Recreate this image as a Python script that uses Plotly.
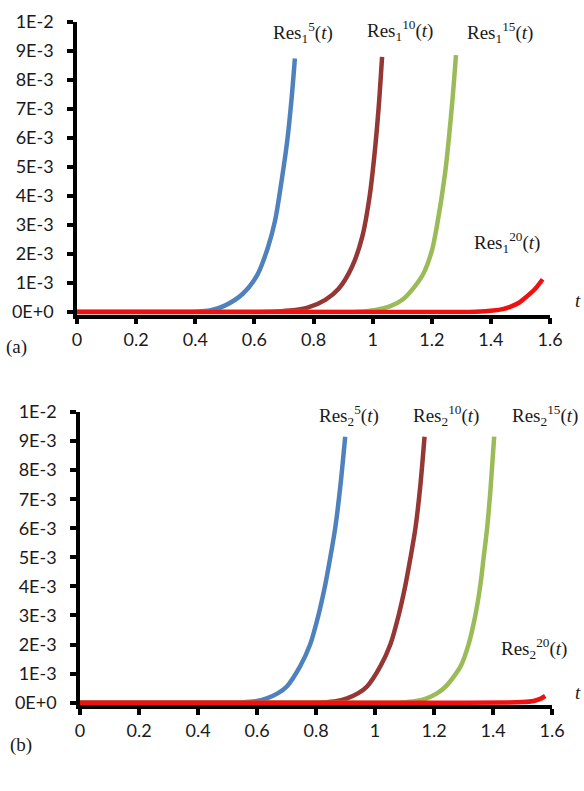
import plotly.graph_objects as go

W, H = 584, 791

# ---------------- data (values in units of 1E-3) ----------------
# Panel (a): Res_1^n(t)
t_a5 = [0, 0.2, 0.4, 0.45, 0.5, 0.56, 0.61, 0.645, 0.67, 0.692, 0.711, 0.726, 0.737]
v_a5 = [0, 0, 0.01, 0.05, 0.22, 0.62, 1.28, 2.2, 3.15, 4.52, 5.89, 7.37, 8.74]

t_a10 = [0, 0.4, 0.65, 0.72, 0.78, 0.84, 0.885, 0.93, 0.965, 0.99, 1.005, 1.02, 1.032]
v_a10 = [0, 0, 0.01, 0.05, 0.15, 0.42, 0.8, 1.55, 2.6, 4.0, 5.3, 7.0, 8.8]

t_a15 = [0, 0.8, 0.95, 1.01, 1.06, 1.104, 1.14, 1.172, 1.2, 1.217, 1.245, 1.268, 1.282]
v_a15 = [0, 0, 0.01, 0.07, 0.2, 0.45, 0.85, 1.33, 2.1, 2.94, 4.78, 7.08, 8.86]

t_a20 = [0, 1.2, 1.35, 1.408, 1.44, 1.465, 1.495, 1.521, 1.55, 1.575]
v_a20 = [0, 0, 0.01, 0.05, 0.1, 0.18, 0.32, 0.53, 0.8, 1.13]

# Panel (b): Res_2^n(t)
t_b5 = [0, 0.4, 0.55, 0.6, 0.633, 0.67, 0.701, 0.746, 0.78, 0.808, 0.831, 0.848, 0.865, 0.882, 0.899]
v_b5 = [0, 0, 0.01, 0.06, 0.15, 0.32, 0.56, 1.25, 2.0, 3.0, 4.04, 4.97, 6.0, 7.4, 9.15]

t_b10 = [0, 0.6, 0.82, 0.872, 0.905, 0.942, 0.973, 1.018, 1.052, 1.08, 1.103, 1.12, 1.137, 1.153, 1.168]
v_b10 = [0, 0, 0.01, 0.06, 0.15, 0.32, 0.56, 1.25, 2.0, 3.0, 4.04, 4.97, 6.0, 7.4, 9.15]

t_b15 = [0, 0.9, 1.09, 1.14, 1.175, 1.21, 1.24, 1.29, 1.317, 1.34, 1.357, 1.368, 1.38, 1.392, 1.404]
v_b15 = [0, 0, 0.01, 0.06, 0.15, 0.32, 0.56, 1.25, 2.0, 3.0, 4.04, 4.97, 6.0, 7.4, 9.15]

t_b20 = [0, 1.3, 1.45, 1.5, 1.538, 1.56, 1.577]
v_b20 = [0, 0, 0.005, 0.02, 0.06, 0.13, 0.23]

x_ticks = [0, 0.2, 0.4, 0.6, 0.8, 1.0, 1.2, 1.4, 1.6]
x_ticktext = ["0", "0.2", "0.4", "0.6", "0.8", "1", "1.2", "1.4", "1.6"]
y_ticks = [i * 1e-3 for i in range(11)]
y_ticktext = ["0E+0", "1E-3", "2E-3", "3E-3", "4E-3", "5E-3",
              "6E-3", "7E-3", "8E-3", "9E-3", "1E-2"]

colors = {"5": "#4F81BD", "10": "#953735", "15": "#9BBB59", "20": "#F01010"}

# ---------------- figure ----------------
fig = go.Figure()

def add(t, v, key, xa, ya):
    fig.add_trace(go.Scatter(
        x=t, y=[val * 1e-3 for val in v], mode="lines",
        line=dict(color=colors[key], width=4.5, shape="spline", smoothing=0.8),
        xaxis=xa, yaxis=ya, showlegend=False, hoverinfo="skip"))

for t, v, k in [(t_a5, v_a5, "5"), (t_a10, v_a10, "10"), (t_a15, v_a15, "15"), (t_a20, v_a20, "20")]:
    add(t, v, k, "x", "y")
for t, v, k in [(t_b5, v_b5, "5"), (t_b10, v_b10, "10"), (t_b15, v_b15, "15"), (t_b20, v_b20, "20")]:
    add(t, v, k, "x2", "y2")

def px(x, y):
    # window pixel -> paper fraction
    return x / W, 1 - y / H

# plot area boxes in window pixels: (left, right, y_zero, y_top)
box_a = (77, 550, 312, 22)
box_b = (80, 552, 702.7, 412)
ymin = -0.00009

def dom(box):
    l, r, y0, y1 = box
    per = (y0 - y1) / 0.01
    ybot = y0 + (-ymin) * per
    x0p, ytop = px(l, y1)
    x1p, ybp = px(r, ybot)
    return [x0p, x1p], [ybp, ytop]

tickfont = dict(family="Lato, Noto Sans, sans-serif", size=18, color="#1a1a1a")
ax_common = dict(showgrid=False, zeroline=False, showline=True, linecolor="black",
                 linewidth=3.5, ticks="outside", tickcolor="black", tickwidth=3.5,
                 ticklen=6, tickfont=tickfont, automargin=False)

xd_a, yd_a = dom(box_a)
xd_b, yd_b = dom(box_b)

fig.update_layout(
    width=W, height=H, margin=dict(l=0, r=0, t=0, b=0, autoexpand=False),
    paper_bgcolor="white", plot_bgcolor="white",
    xaxis=dict(domain=xd_a, anchor="y", range=[0, 1.6], tickvals=x_ticks,
               ticktext=x_ticktext, ticklabelstandoff=0, **ax_common),
    yaxis=dict(domain=yd_a, anchor="x", range=[ymin, 0.01], tickvals=y_ticks,
               ticktext=y_ticktext, ticklabelstandoff=10, **ax_common),
    xaxis2=dict(domain=xd_b, anchor="y2", range=[0, 1.6], tickvals=x_ticks,
                ticktext=x_ticktext, ticklabelstandoff=0, **ax_common),
    yaxis2=dict(domain=yd_b, anchor="x2", range=[ymin, 0.01], tickvals=y_ticks,
                ticktext=y_ticktext, ticklabelstandoff=10, **ax_common),
)

serif = dict(family="Liberation Serif, DejaVu Serif, serif", size=19, color="#1a1a1a")

labels = [
    ("Res<sub>1</sub><sup>5</sup>(<i>t</i>)", 303, 32),
    ("Res<sub>1</sub><sup>10</sup>(<i>t</i>)", 400, 30),
    ("Res<sub>1</sub><sup>15</sup>(<i>t</i>)", 500, 32),
    ("Res<sub>1</sub><sup>20</sup>(<i>t</i>)", 507, 243),
    ("<i>t</i>", 578, 300),
    ("Res<sub>2</sub><sup>5</sup>(<i>t</i>)", 349, 415),
    ("Res<sub>2</sub><sup>10</sup>(<i>t</i>)", 446, 415),
    ("Res<sub>2</sub><sup>15</sup>(<i>t</i>)", 545, 415),
    ("Res<sub>2</sub><sup>20</sup>(<i>t</i>)", 534, 648),
    ("<i>t</i>", 578, 692),
    ("(a)", 16, 347),
    ("(b)", 21, 745),
]
for text, x, y in labels:
    ax, ay = px(x, y)
    fig.add_annotation(text=text, x=ax, y=ay, xref="paper", yref="paper",
                       showarrow=False, xanchor="center", yanchor="middle", font=serif)

fig.write_html("out.html", config={"displayModeBar": False},
               post_script="document.body.style.margin='0';document.body.style.overflow='hidden';")
